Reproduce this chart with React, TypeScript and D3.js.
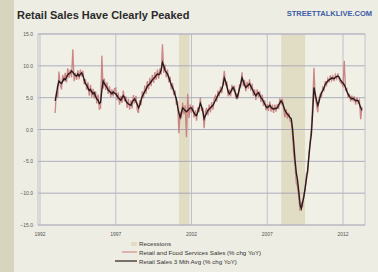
import React from "react";
import * as d3 from "d3";

const W = 378;
const H = 272;

const START_YEAR = 1993; // monthly data from Jan 1993

// Retail and Food Services Sales, % chg YoY (monthly)
const retailSales: number[] = [
  // 1993
  2.6, 6.0, 5.0, 9.1, 7.0, 6.3, 8.6, 7.5, 8.9, 7.4, 9.6, 8.1,
  // 1994
  9.4, 8.2, 12.6, 7.6, 8.9, 7.8, 9.3, 7.9, 9.4, 8.3, 9.2, 7.1,
  // 1995
  7.9, 6.2, 7.4, 5.3, 7.0, 5.1, 6.4, 4.9, 6.0, 4.1, 5.5, 3.2,
  // 1996
  3.4, 11.6, 6.4, 8.0, 6.2, 7.4, 5.6, 6.8, 5.1, 6.3, 5.2, 6.4,
  // 1997
  6.5, 4.6, 5.8, 3.9, 5.3, 4.2, 6.1, 4.4, 5.2, 3.4, 4.8, 3.1,
  // 1998
  4.6, 3.3, 5.4, 4.1, 5.3, 3.1, 2.6, 4.6, 3.8, 6.0, 4.9, 6.9,
  // 1999
  5.6, 7.6, 6.3, 8.1, 6.8, 8.6, 7.3, 9.0, 7.8, 9.4, 8.0, 9.6,
  // 2000
  8.6, 13.4, 8.9, 10.2, 8.2, 9.4, 7.4, 8.3, 6.3, 7.3, 5.4, 6.1,
  // 2001
  3.9, 4.4, -0.6, 2.8, 1.8, 4.2, 2.4, 3.8, -1.2, 5.6, 1.8, 3.9,
  // 2002
  2.6, 3.8, 1.9, 3.0, 1.4, 3.5, 2.7, 5.0, 2.9, 3.4, 0.2, 2.8,
  // 2003
  3.4, 2.2, 3.9, 2.7, 4.3, 3.1, 4.9, 5.3, 4.4, 6.1, 5.2, 6.7,
  // 2004
  5.7, 7.6, 9.2, 6.9, 7.5, 5.2, 6.3, 5.2, 7.0, 6.0, 6.9, 4.9,
  // 2005
  5.7, 4.9, 7.1, 6.6, 9.0, 6.8, 7.8, 6.0, 7.5, 6.4, 7.9, 6.1,
  // 2006
  7.2, 5.3, 6.3, 4.6, 6.3, 5.1, 6.0, 4.3, 5.5, 3.7, 4.6, 3.0,
  // 2007
  4.0, 2.9, 4.4, 2.8, 3.9, 2.6, 3.9, 2.8, 4.0, 3.2, 4.9, 3.9,
  // 2008
  4.8, 3.2, 1.9, 3.2, 1.7, 2.6, 1.4, 1.2, -0.8, -4.0, -5.6, -8.4,
  // 2009
  -9.0, -10.6, -12.8, -11.6, -12.0, -10.0, -9.6, -7.0, -6.8, -3.8, -1.8, 0.4,
  // 2010
  4.2, 9.7, 5.0, 4.0, 2.7, 4.8, 5.6, 5.2, 6.6, 6.2, 7.6, 7.0,
  // 2011
  8.0, 7.4, 8.5, 7.7, 8.4, 7.6, 8.6, 8.0, 8.8, 7.8, 7.4, 7.2,
  // 2012
  6.8, 10.8, 6.2, 6.4, 5.0, 5.6, 4.4, 5.3, 4.6, 5.2, 3.9, 5.0,
  // 2013
  4.2, 4.6, 1.6, 3.6,
];

// Retail Sales 3 Mth Avg, % chg YoY (monthly)
const retailSales3m: number[] = [
  // 1993
  4.5, 5.5, 6.8, 7.6, 7.4, 7.2, 7.6, 8.0, 7.8, 8.2, 8.6, 8.8,
  // 1994
  8.9, 9.2, 9.0, 8.7, 8.5, 8.4, 8.7, 8.4, 8.7, 8.9, 8.5, 7.8,
  // 1995
  7.2, 7.0, 6.5, 6.1, 6.3, 5.9, 5.6, 5.8, 5.2, 4.8, 4.6, 4.1,
  // 1996
  4.3, 6.2, 7.6, 7.2, 6.9, 6.6, 6.2, 6.0, 5.8, 5.6, 5.9, 5.7,
  // 1997
  5.6, 5.3, 5.0, 4.8, 4.6, 5.0, 5.3, 5.0, 4.5, 4.2, 4.0, 3.9,
  // 1998
  3.8, 4.3, 4.6, 4.8, 4.4, 4.0, 3.4, 3.8, 4.6, 5.2, 5.6, 6.0,
  // 1999
  6.3, 6.8, 7.0, 7.2, 7.5, 7.8, 8.0, 8.2, 8.5, 8.7, 8.6, 8.8,
  // 2000
  9.4, 10.5, 10.0, 9.3, 9.0, 8.7, 8.2, 7.6, 7.0, 6.6, 6.1, 5.4,
  // 2001
  4.8, 3.6, 2.6, 1.9, 2.6, 3.4, 3.2, 3.0, 2.8, 3.0, 3.2, 3.4,
  // 2002
  3.4, 3.0, 2.6, 2.3, 2.2, 2.8, 3.4, 4.1, 3.6, 2.8, 1.7, 2.2,
  // 2003
  2.6, 3.0, 3.2, 3.4, 3.6, 3.8, 4.2, 4.6, 5.0, 5.4, 5.8, 6.0,
  // 2004
  6.4, 7.0, 8.1, 7.6, 6.8, 6.0, 5.6, 5.9, 6.3, 6.6, 6.2, 5.6,
  // 2005
  5.0, 5.6, 6.4, 7.2, 8.1, 7.6, 7.0, 6.6, 6.8, 7.0, 7.2, 6.8,
  // 2006
  6.4, 6.0, 5.6, 5.3, 5.6, 5.8, 5.4, 5.0, 4.8, 4.4, 4.0, 3.6,
  // 2007
  3.4, 3.6, 3.8, 3.5, 3.3, 3.2, 3.3, 3.3, 3.4, 3.8, 4.2, 4.5,
  // 2008
  4.2, 3.6, 3.0, 2.7, 2.4, 2.2, 1.9, 1.7, 0.2, -2.2, -4.8, -6.8,
  // 2009
  -8.0, -9.8, -11.8, -12.4, -11.4, -10.6, -9.2, -7.8, -6.4, -4.2, -2.2, -0.6,
  // 2010
  2.8, 6.6, 5.6, 4.6, 3.8, 4.4, 5.2, 5.8, 6.1, 6.6, 7.1, 7.4,
  // 2011
  7.6, 7.8, 7.9, 8.1, 8.0, 8.0, 8.2, 8.3, 8.4, 8.2, 7.8, 7.5,
  // 2012
  7.3, 7.0, 6.6, 6.0, 5.6, 5.2, 5.0, 4.8, 4.9, 4.7, 4.5, 4.6,
  // 2013
  4.5, 4.0, 3.4, 3.0,
];

// Recessions (decimal years)
const recessions: [number, number][] = [
  [2001.17, 2001.87],
  [2007.92, 2009.5],
];

const xTicks = [1992, 1997, 2002, 2007, 2012];
const yTicks = [15, 10, 5, 0, -5, -10, -15];

const legendLabels = [
  "Recessions",
  "Retail and Food Services Sales (% chg YoY)",
  "Retail Sales 3 Mth Avg (% chg YoY)",
];

const plot = { left: 38, right: 365, top: 34, bottom: 225 };

export default function App() {
  const x = d3.scaleLinear().domain([1992, 2012]).range([40, 343]);
  const y = d3.scaleLinear().domain([-15, 15]).range([225, 34]);

  const toPts = (arr: number[]) =>
    arr.map((v, i) => [START_YEAR + i / 12, v] as [number, number]);

  const line = d3
    .line<[number, number]>()
    .x((d) => x(d[0]))
    .y((d) => y(d[1]));

  const redPath = line(toPts(retailSales)) || "";
  const blackPath = line(toPts(retailSales3m)) || "";

  const fmt = d3.format(".1f");
  const font = "'Liberation Sans', Arial, sans-serif";

  return (
    <svg
      width={W}
      height={H}
      style={{ position: "absolute", left: 0, top: 0, display: "block" }}
      fontFamily={font}
    >
      <rect x={0} y={0} width={W} height={H} fill="#eeede3" />
      <rect x={0} y={0} width={14} height={H} fill="#d8d5be" />

      <text x={17} y={19} fontSize={11} fontWeight="bold" fill="#2b2b2b">
        Retail Sales Have Clearly Peaked
      </text>
      <text
        x={372}
        y={16}
        fontSize={7.5}
        fontWeight="bold"
        fill="#3d5ca8"
        textAnchor="end"
      >
        STREETTALKLIVE.COM
      </text>

      {/* plot area */}
      <rect
        x={plot.left}
        y={plot.top}
        width={plot.right - plot.left}
        height={plot.bottom - plot.top}
        fill="#f1f0e7"
      />

      {recessions.map(([a, b], i) => (
        <rect
          key={"r" + i}
          x={x(a)}
          y={plot.top}
          width={x(b) - x(a)}
          height={plot.bottom - plot.top}
          fill="#e1dcc4"
        />
      ))}

      {yTicks.map((t) => (
        <line
          key={"gy" + t}
          x1={plot.left}
          x2={plot.right}
          y1={y(t)}
          y2={y(t)}
          stroke="#9c9cb4"
          strokeWidth={0.8}
        />
      ))}
      {xTicks.map((t) => (
        <line
          key={"gx" + t}
          x1={x(t)}
          x2={x(t)}
          y1={plot.top}
          y2={plot.bottom}
          stroke="#b4b4c4"
          strokeWidth={0.8}
        />
      ))}
      <rect
        x={plot.left}
        y={plot.top}
        width={plot.right - plot.left}
        height={plot.bottom - plot.top}
        fill="none"
        stroke="#b8b8c6"
        strokeWidth={0.8}
      />

      <path d={redPath} fill="none" stroke="#c77a7a" strokeWidth={1.3} opacity={0.9} />
      <path d={blackPath} fill="none" stroke="#2a1c1c" strokeWidth={1.4} />

      {yTicks.map((t) => (
        <text
          key={"ty" + t}
          x={33}
          y={y(t) + 2}
          fontSize={5}
          fill="#555"
          textAnchor="end"
        >
          {fmt(t)}
        </text>
      ))}
      {xTicks.map((t) => (
        <text
          key={"tx" + t}
          x={x(t)}
          y={236}
          fontSize={5}
          fill="#555"
          textAnchor="middle"
        >
          {t}
        </text>
      ))}

      {/* legend */}
      <rect x={131} y={242} width={6} height={4} fill="#e1dcc4" />
      <line x1={122} x2={137} y1={252} y2={252} stroke="#c77a7a" strokeWidth={1} />
      <line x1={115} x2={137} y1={261} y2={261} stroke="#2a1c1c" strokeWidth={1.2} />
      {legendLabels.map((s, i) => (
        <text key={"l" + i} x={139} y={246 + i * 9} fontSize={6.2} fill="#333">
          {s}
        </text>
      ))}
    </svg>
  );
}
